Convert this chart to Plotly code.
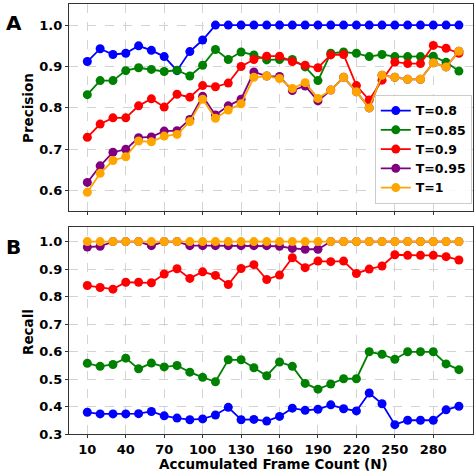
import plotly.graph_objects as go
from plotly.subplots import make_subplots

frames = list(range(10, 301, 10))

labels = ["T=0.8", "T=0.85", "T=0.9", "T=0.95", "T=1"]
colors = ["blue", "green", "red", "purple", "orange"]

precision_08 = [0.912, 0.943, 0.929, 0.932, 0.950, 0.939, 0.924, 0.890, 0.936, 0.964,
                1.0, 1.0, 1.0, 1.0, 1.0, 1.0, 1.0, 1.0, 1.0, 1.0,
                1.0, 1.0, 1.0, 1.0, 1.0, 1.0, 1.0, 1.0, 1.0, 1.0]
precision_085 = [0.832, 0.866, 0.866, 0.890, 0.897, 0.893, 0.888, 0.891, 0.877, 0.903,
                 0.941, 0.917, 0.935, 0.928, 0.916, 0.917, 0.917, 0.899, 0.866, 0.932,
                 0.935, 0.932, 0.924, 0.929, 0.924, 0.924, 0.924, 0.925, 0.910, 0.889]
precision_09 = [0.729, 0.761, 0.776, 0.776, 0.805, 0.822, 0.802, 0.833, 0.826, 0.854,
                0.851, 0.860, 0.900, 0.917, 0.925, 0.925, 0.912, 0.903, 0.897, 0.928,
                0.929, 0.854, 0.819, 0.867, 0.911, 0.907, 0.907, 0.951, 0.944, 0.932]
precision_095 = [0.620, 0.660, 0.693, 0.700, 0.728, 0.730, 0.744, 0.745, 0.772, 0.828,
                 0.783, 0.805, 0.821, 0.887, 0.877, 0.876, 0.842, 0.853, 0.817, 0.843,
                 0.874, 0.839, 0.800, 0.879, 0.874, 0.869, 0.869, 0.909, 0.899, 0.937]
precision_1 = [0.596, 0.642, 0.673, 0.682, 0.720, 0.718, 0.732, 0.736, 0.767, 0.821,
               0.775, 0.795, 0.810, 0.874, 0.877, 0.871, 0.847, 0.861, 0.823, 0.843,
               0.874, 0.839, 0.800, 0.879, 0.874, 0.869, 0.869, 0.909, 0.899, 0.937]

recall_08 = [0.379, 0.373, 0.373, 0.373, 0.374, 0.382, 0.366, 0.358, 0.352, 0.355,
             0.369, 0.397, 0.352, 0.353, 0.347, 0.364, 0.394, 0.386, 0.390, 0.406,
             0.392, 0.384, 0.449, 0.410, 0.334, 0.350, 0.350, 0.350, 0.388, 0.401]
recall_085 = [0.557, 0.546, 0.553, 0.576, 0.537, 0.558, 0.544, 0.549, 0.525, 0.506,
              0.490, 0.570, 0.570, 0.541, 0.512, 0.562, 0.546, 0.484, 0.463, 0.482,
              0.501, 0.501, 0.599, 0.590, 0.572, 0.599, 0.599, 0.599, 0.555, 0.534]
recall_09 = [0.840, 0.833, 0.827, 0.852, 0.852, 0.850, 0.882, 0.901, 0.866, 0.890,
             0.877, 0.844, 0.902, 0.916, 0.862, 0.878, 0.941, 0.905, 0.929, 0.927,
             0.929, 0.884, 0.900, 0.911, 0.952, 0.950, 0.950, 0.950, 0.945, 0.933]
recall_095 = [0.980, 0.983, 1.0, 1.0, 1.0, 0.985, 1.0, 1.0, 0.985, 0.985,
              0.985, 0.985, 0.985, 0.985, 0.985, 0.983, 0.975, 0.972, 0.972, 1.0,
              1.0, 1.0, 1.0, 1.0, 1.0, 1.0, 1.0, 1.0, 1.0, 1.0]
recall_1 = [1.0] * 30

precision = [precision_08, precision_085, precision_09, precision_095, precision_1]
recall = [recall_08, recall_085, recall_09, recall_095, recall_1]

xticks = [10, 40, 70, 100, 130, 160, 190, 220, 250, 280]
prec_ticks = [0.6, 0.7, 0.8, 0.9, 1.0]
rec_ticks = [0.3, 0.4, 0.5, 0.6, 0.7, 0.8, 0.9, 1.0]

FONT = "DejaVu Sans"
W, H = 475, 472
L, R, T, B = 69, 2, 4, 38

fig = make_subplots(rows=2, cols=1, shared_xaxes=True, vertical_spacing=16 / 430)

for lab, col, p in zip(labels, colors, precision):
    fig.add_trace(go.Scatter(x=frames, y=p, mode="lines+markers", name=lab,
                             line=dict(color=col, width=1.8),
                             marker=dict(color=col, size=9)), row=1, col=1)
for lab, col, r in zip(labels, colors, recall):
    fig.add_trace(go.Scatter(x=frames, y=r, mode="lines+markers", name=lab,
                             showlegend=False,
                             line=dict(color=col, width=1.8),
                             marker=dict(color=col, size=9)), row=2, col=1)

axis_common = dict(showline=True, linecolor="#333333", linewidth=1.2, mirror=True,
                   showgrid=True, gridcolor="#d3d3d3", griddash="dash", gridwidth=1,
                   ticks="outside", ticklen=3, tickcolor="#333333", zeroline=False,
                   automargin=False,
                   tickfont=dict(family=FONT, size=13, color="black", weight="bold"))

fig.update_xaxes(**axis_common, range=[-4.3, 311], tickvals=xticks)
fig.update_yaxes(**axis_common)
fig.update_yaxes(row=1, col=1, range=[0.551, 1.051], tickvals=prec_ticks,
                 ticktext=[f"{v:.1f}" for v in prec_ticks])
fig.update_yaxes(row=2, col=1, range=[0.3, 1.053], tickvals=rec_ticks,
                 ticktext=[f"{v:.1f}" for v in rec_ticks])

fig.update_layout(
    width=W, height=H,
    margin=dict(l=L, r=R, t=T, b=B, autoexpand=False),
    paper_bgcolor="white", plot_bgcolor="white",
    font=dict(family=FONT, color="black"),
    legend=dict(x=0.997, y=0.535, xanchor="right", yanchor="bottom",
                bgcolor="rgba(255,255,255,0.85)", bordercolor="#cccccc", borderwidth=1,
                font=dict(family=FONT, size=12.5, color="black", weight="bold"),
                tracegroupgap=0, itemwidth=30),
)

pw, ph = W - L - R, H - T - B
def px(xp, yp):
    return (xp - L) / pw, (H - B - yp) / ph

def label(text, xp, yp, size, angle=0):
    x, y = px(xp, yp)
    fig.add_annotation(text=text, x=x, y=y, xref="paper", yref="paper", showarrow=False,
                       xanchor="center", yanchor="middle", textangle=angle,
                       font=dict(family=FONT, size=size, color="black", weight="bold"))

label("A", 14, 23, 20)
label("B", 14, 247, 20)
label("Precision", 28, 108, 13.5, -90)
label("Recall", 28, 332, 13.5, -90)
label("Accumulated Frame Count (N)", 273, 464, 13.5)

fig.write_html("out.html", config={"displayModeBar": False},
               post_script="document.body.style.margin='0';document.body.style.overflow='hidden';")
